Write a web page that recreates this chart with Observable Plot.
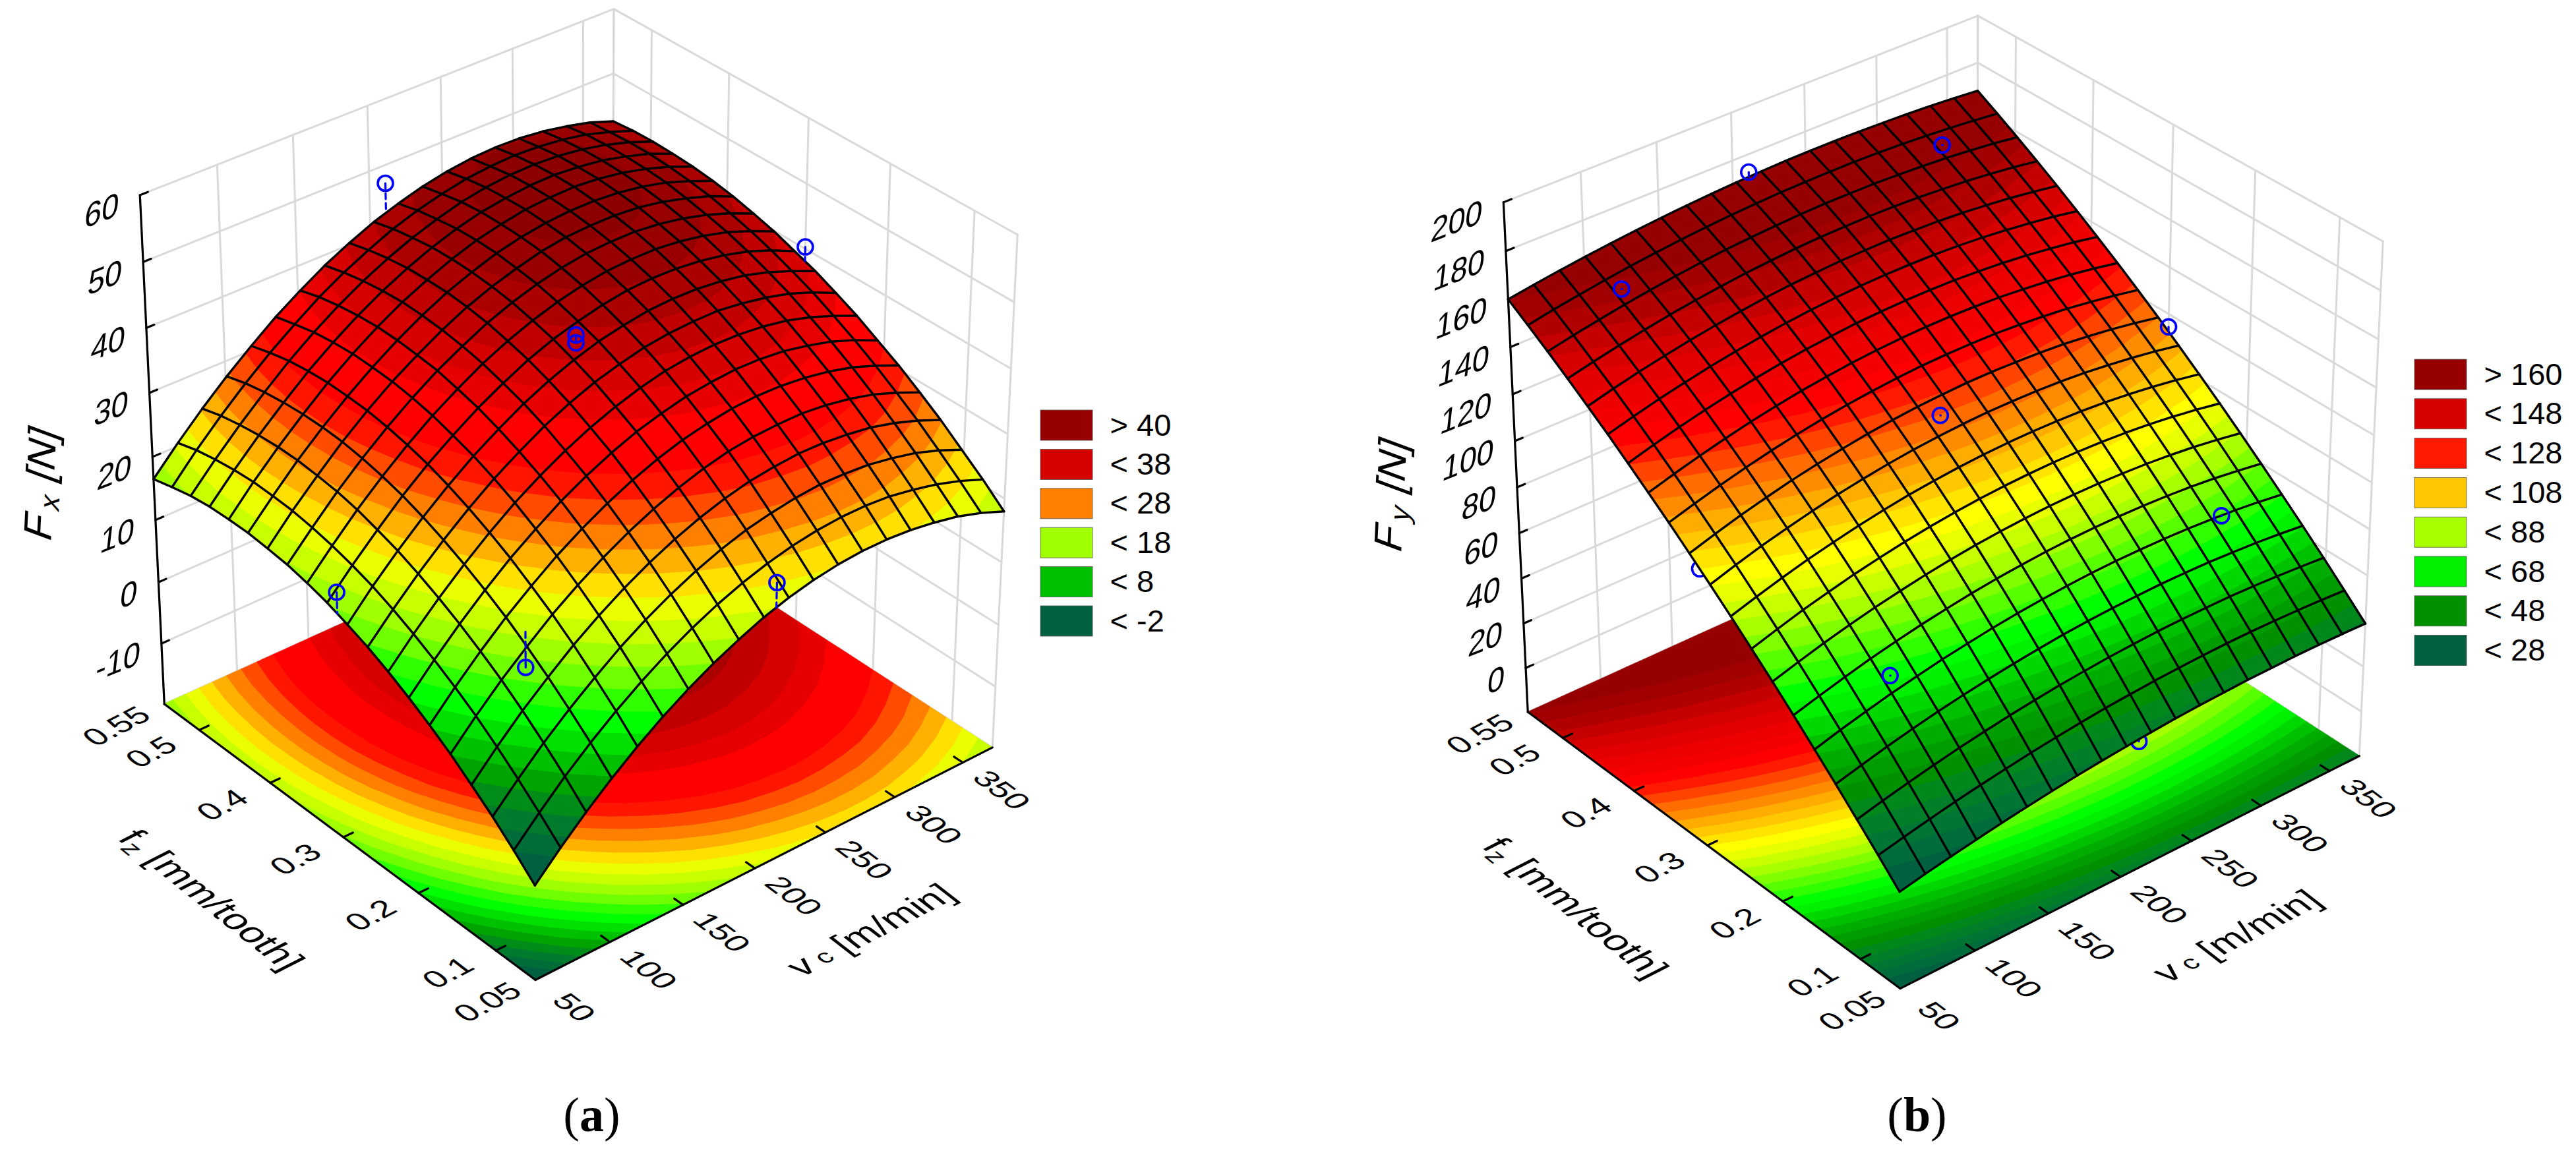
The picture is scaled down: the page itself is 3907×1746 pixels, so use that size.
<!DOCTYPE html>
<html><head><meta charset="utf-8">
<script src="https://cdn.jsdelivr.net/npm/d3@7"></script>
<script src="https://cdn.jsdelivr.net/npm/@observablehq/plot@0.6"></script>
<style>html,body{margin:0;padding:0;background:#fff}svg{display:block}</style>
</head><body><div id="chart"></div>
<script>
const vcLim=[50,372], fzLim=[0.05,0.55];
const vcTicks=[50,100,150,200,250,300,350];
const fzTicks=[0.05,0.1,0.2,0.3,0.4,0.5,0.55];
const zTicksA=[-10,0,10,20,30,40,50,60];
const zTicksB=[0,20,40,60,80,100,120,140,160,180,200];
const levelsA=[-2,0,2,4,6,8,10,12,14,16,18,20,22,24,26,28,30,32,34,36,38,40,42,44,46];
const levelsB=[28,32,36,40,44,48,52,56,60,64,68,72,76,80,84,88,92,96,100,104,108,112,116,120,124,128,132,136,140,144,148,152,156,160];
const bandColorsA=["#006040","#006c38","#007a2c","#008c18","#00a400","#00c000","#00e000","#00ff00","#30ff00","#70ff00","#a0ff00","#c8ff00","#eaff00","#ffe000","#ffb000","#ff8000","#ff4c00","#ff1600","#ff0000","#ff0000","#e60000","#d60000","#c00000","#aa0000","#980000","#8c0000"];
const bandColorsB=["#006040","#006c3c","#007534","#007e28","#00881c","#009000","#009c00","#00ac00","#00c000","#00d800","#00f000","#00ff00","#30ff00","#58ff00","#80ff00","#a8ff00","#c8ff00","#e8ff00","#ffff00","#ffe400","#ffc800","#ffac00","#ff8c00","#ff6c00","#ff4400","#ff1a00","#ff0000","#f40000","#ec0000","#e20000","#d70000","#c40000","#b00000","#a00000","#960000"];
const legendA=[[">","40","#960000"],["<","38","#d60000"],["<","28","#ff8000"],["<","18","#a0ff00"],["<","8","#00c000"],["<","-2","#006040"]];
const legendB=[[">","160","#960000"],["<","148","#d70000"],["<","128","#ff1a00"],["<","108","#ffc800"],["<","88","#a8ff00"],["<","68","#00f000"],["<","48","#009000"],["<","28","#006040"]];
// Fx: rows are fz from 0.05 to 0.55, columns are vc from 50 to 372
const surfaceA=[
[-5.0,-1.1,2.5,5.8,8.8,11.5,13.9,16.0,17.8,19.4,20.6,21.5,22.1,22.4,22.4,22.1,21.5,20.7,19.5,18.0],
[-1.9,2.0,5.7,9.0,12.0,14.7,17.1,19.2,21.0,22.5,23.7,24.6,25.2,25.5,25.5,25.2,24.5,23.6,22.4,20.9],
[1.0,4.9,8.6,11.9,14.9,17.7,20.1,22.2,24.0,25.5,26.7,27.5,28.1,28.4,28.3,28.0,27.3,26.4,25.1,23.5],
[3.6,7.6,11.3,14.6,17.7,20.4,22.8,24.9,26.7,28.2,29.4,30.3,30.8,31.1,31.0,30.6,30.0,29.0,27.7,26.1],
[6.1,10.1,13.8,17.1,20.2,22.9,25.3,27.4,29.2,30.7,31.9,32.8,33.3,33.5,33.5,33.1,32.4,31.4,30.0,28.4],
[8.3,12.3,16.0,19.4,22.4,25.2,27.6,29.7,31.5,33.0,34.2,35.0,35.6,35.8,35.7,35.3,34.6,33.6,32.2,30.6],
[10.3,14.3,18.0,21.4,24.5,27.2,29.7,31.8,33.6,35.1,36.2,37.1,37.6,37.9,37.8,37.4,36.6,35.6,34.2,32.5],
[12.1,16.1,19.8,23.2,26.3,29.1,31.5,33.6,35.4,36.9,38.1,39.0,39.5,39.7,39.6,39.2,38.5,37.4,36.0,34.4],
[13.7,17.7,21.4,24.8,27.9,30.7,33.1,35.3,37.1,38.6,39.7,40.6,41.1,41.3,41.3,40.8,40.1,39.1,37.7,36.0],
[15.0,19.1,22.8,26.2,29.3,32.1,34.5,36.7,38.5,40.0,41.2,42.0,42.6,42.8,42.7,42.3,41.6,40.5,39.1,37.5],
[16.2,20.2,23.9,27.4,30.5,33.2,35.7,37.8,39.7,41.2,42.3,43.2,43.8,44.0,43.9,43.5,42.8,41.8,40.4,38.7],
[17.1,21.1,24.9,28.3,31.4,34.2,36.6,38.8,40.6,42.1,43.3,44.2,44.8,45.0,45.0,44.6,43.9,42.9,41.5,39.9],
[17.8,21.8,25.6,29.0,32.1,34.9,37.4,39.5,41.4,42.9,44.1,45.0,45.6,45.8,45.8,45.4,44.7,43.7,42.4,40.8],
[18.2,22.3,26.0,29.5,32.6,35.4,37.8,40.0,41.9,43.4,44.6,45.6,46.2,46.4,46.4,46.1,45.4,44.4,43.2,41.6],
[18.5,22.5,26.3,29.7,32.8,35.6,38.1,40.3,42.2,43.7,45.0,45.9,46.5,46.8,46.8,46.5,45.9,45.0,43.7,42.2],
[18.5,22.6,26.3,29.7,32.9,35.7,38.2,40.4,42.2,43.8,45.1,46.0,46.7,47.0,47.1,46.8,46.2,45.3,44.1,42.6],
[18.4,22.4,26.1,29.5,32.7,35.5,38.0,40.2,42.1,43.7,45.0,46.0,46.6,47.0,47.1,46.8,46.3,45.4,44.3,42.8],
[18.0,22.0,25.7,29.1,32.3,35.1,37.6,39.8,41.7,43.3,44.6,45.7,46.4,46.8,46.9,46.7,46.2,45.4,44.3,42.9],
[17.3,21.4,25.1,28.5,31.6,34.4,37.0,39.2,41.1,42.8,44.1,45.1,45.9,46.3,46.5,46.3,45.9,45.2,44.1,42.8],
[16.5,20.5,24.2,27.6,30.7,33.6,36.1,38.4,40.3,42.0,43.3,44.4,45.2,45.7,45.9,45.8,45.4,44.7,43.8,42.5]];
// Fy: rows are fz from 0.05 to 0.55, columns are vc from 50 to 372
const surfaceB=[
[22.0,24.2,26.2,28.1,29.9,31.5,33.0,34.3,35.5,36.5,37.4,38.2,38.8,39.2,39.6,39.7,39.8,39.7,39.4,39.0],
[31.1,33.5,35.8,37.9,39.8,41.5,43.1,44.5,45.7,46.8,47.6,48.3,48.8,49.2,49.4,49.4,49.2,48.8,48.3,47.6],
[39.9,42.6,45.0,47.3,49.4,51.2,52.9,54.3,55.6,56.6,57.5,58.1,58.6,58.8,58.8,58.7,58.3,57.7,56.9,56.0],
[48.6,51.4,54.1,56.5,58.7,60.6,62.3,63.8,65.1,66.2,67.0,67.6,67.9,68.1,68.0,67.7,67.1,66.4,65.4,64.2],
[57.0,60.1,62.8,65.4,67.6,69.7,71.4,73.0,74.3,75.3,76.1,76.7,77.0,77.0,76.8,76.4,75.7,74.8,73.6,72.1],
[65.3,68.4,71.3,74.0,76.3,78.4,80.2,81.8,83.1,84.1,84.9,85.4,85.6,85.6,85.3,84.8,84.0,82.9,81.5,79.9],
[73.4,76.6,79.6,82.3,84.7,86.8,88.7,90.3,91.6,92.6,93.3,93.8,94.0,93.9,93.5,92.9,92.0,90.8,89.3,87.5],
[81.2,84.5,87.6,90.3,92.8,94.9,96.8,98.4,99.7,100.7,101.4,101.8,102.0,101.8,101.4,100.7,99.7,98.4,96.8,94.9],
[88.9,92.2,95.3,98.1,100.5,102.7,104.6,106.2,107.4,108.4,109.1,109.5,109.6,109.4,109.0,108.2,107.1,105.7,104.1,102.1],
[96.3,99.7,102.8,105.5,108.0,110.2,112.0,113.6,114.9,115.8,116.5,116.9,116.9,116.7,116.2,115.4,114.2,112.8,111.1,109.1],
[103.6,106.9,110.0,112.7,115.2,117.3,119.1,120.7,121.9,122.9,123.5,123.9,123.9,123.6,123.1,122.3,121.1,119.7,117.9,115.9],
[110.7,113.9,116.9,119.6,122.0,124.1,125.9,127.4,128.6,129.5,130.2,130.5,130.5,130.3,129.7,128.8,127.7,126.2,124.5,122.5],
[117.5,120.7,123.6,126.2,128.6,130.6,132.4,133.8,135.0,135.9,136.5,136.8,136.8,136.5,136.0,135.1,134.0,132.6,130.9,128.9],
[124.2,127.3,130.1,132.6,134.8,136.8,138.5,139.9,141.0,141.9,142.4,142.7,142.7,142.5,141.9,141.1,140.0,138.6,137.0,135.0],
[130.7,133.6,136.3,138.6,140.8,142.6,144.2,145.6,146.7,147.5,148.0,148.3,148.3,148.1,147.6,146.8,145.7,144.4,142.9,141.0],
[136.9,139.7,142.2,144.4,146.4,148.2,149.7,151.0,152.0,152.7,153.3,153.5,153.6,153.3,152.9,152.2,151.2,150.0,148.5,146.8],
[143.0,145.5,147.8,149.9,151.8,153.4,154.8,156.0,156.9,157.7,158.2,158.4,158.5,158.3,157.9,157.2,156.4,155.3,154.0,152.4],
[148.9,151.2,153.2,155.1,156.8,158.3,159.6,160.7,161.5,162.2,162.7,163.0,163.0,162.9,162.5,162.0,161.3,160.3,159.2,157.8],
[154.5,156.6,158.4,160.1,161.6,162.9,164.0,165.0,165.8,166.4,166.9,167.1,167.2,167.2,166.9,166.5,165.9,165.1,164.1,163.0],
[160.0,161.7,163.3,164.7,166.0,167.1,168.1,169.0,169.7,170.3,170.7,171.0,171.1,171.1,170.9,170.6,170.2,169.6,168.9,168.0]];
// Design points: vc, fz, measured force, surface force under it, hidden behind the surface (1) or not (0)
const pointsA=[[211,.55,47.2,42.7,0],[372,.3,40.3,38.1,0],[211,.3,40.8,41.2,0],[211,.3,42,41.2,0],[50,.3,18.9,15.6,0],[211,.05,23.8,20,0],[105,.165,12.6,18.6,0]];
const pointsB=[[211,.55,172.5,170.5,0],[105,.51,158,158,0],[325,.51,163.5,163.5,0],[211,.3,119.7,119.7,0],[372,.3,114.5,112.5,0],[328,.155,75.3,75.3,0],[105,.165,69.4,69.4,0],[50,.3,100,100,1],[211,.05,36,37,1]];
// Frame corners of each 3D box, used to fit the camera of the panel (axis fractions, then page pixels)
const frameA=[[0,0,0,811,1486],[1,0,0,1505,1133],[0,1,0,249,1068],[0,1,1,212,295],[1,0,1,1543,356],[1,1,1,930,13],[1,1,.875,930,111]];
const frameB=[[0,0,0,2881,1499],[1,0,0,3578,1146],[0,1,0,2317,1080],[0,1,1,2280,306],[1,0,1,3614,366],[1,1,1,2999,24],[1,1,.909,2999,94]];

function solveCamera(obs){
  const A=[],b=[];
  for(const [u,v,w,X,Y] of obs){const x=X/1000,y=Y/1000;
    A.push([u,v,w,1,0,0,0,0,-x*u,-x*v,-x*w]);b.push(x);
    A.push([0,0,0,0,u,v,w,1,-y*u,-y*v,-y*w]);b.push(y);}
  const n=11,M=d3.range(n).map(i=>d3.range(n+1).map(j=>j<n?d3.sum(A,r=>r[i]*r[j]):d3.sum(A,(r,k)=>r[i]*b[k])));
  for(let i=0;i<n;i++){let p=i;for(let r=i+1;r<n;r++)if(Math.abs(M[r][i])>Math.abs(M[p][i]))p=r;[M[i],M[p]]=[M[p],M[i]];
    for(let r=0;r<n;r++)if(r!==i){const f=M[r][i]/M[i][i];for(let c=i;c<=n;c++)M[r][c]-=f*M[i][c];}}
  const s=M.map((r,i)=>r[n]/r[i]);
  return (u,v,w)=>{const d=s[8]*u+s[9]*v+s[10]*w+1;return [1000*(s[0]*u+s[1]*v+s[2]*w+s[3])/d,1000*(s[4]*u+s[5]*v+s[6]*w+s[7])/d];};
}
function clip(poly,lo,hi){
  const cut=(pts,inside,lim)=>{const out=[];for(let i=0;i<pts.length;i++){const a=pts[i],b=pts[(i+1)%pts.length],ia=inside(a),ib=inside(b);
    if(ia)out.push(a);
    if(ia!==ib){const t=(lim-a[2])/(b[2]-a[2]);out.push([a[0]+t*(b[0]-a[0]),a[1]+t*(b[1]-a[1]),lim]);}}return out;};
  let p=poly;
  if(lo!=null&&p.length)p=cut(p,q=>q[2]>=lo,lo);
  if(hi!=null&&p.length)p=cut(p,q=>q[2]<=hi,hi);
  return p;
}
function bands(grid,levels,colors){
  const polys=[],n=grid.length-1;
  for(let j=0;j<n;j++)for(let i=0;i<n;i++){
    const P=(a,b)=>[a/n,b/n,grid[b][a]];
    const tris=[[P(i,j),P(i+1,j),P(i+1,j+1)],[P(i,j),P(i+1,j+1),P(i,j+1)]];
    for(const t of tris)for(let k=0;k<=levels.length;k++){
      const lo=k?levels[k-1]:null,hi=k<levels.length?levels[k]:null;
      if(lo!=null&&Math.max(t[0][2],t[1][2],t[2][2])<=lo)continue;
      if(hi!=null&&Math.min(t[0][2],t[1][2],t[2][2])>=hi)continue;
      const c=clip(t,lo,hi);if(c.length>2)polys.push({pts:c,color:colors[k]});
    }
  }
  return polys;
}
function panel(cfg){
  const {frame,zLim,zTicks,grid,levels,colors,points,legend,lx,ly,tag}=cfg;
  const cam=solveCamera(frame);
  const U=vc=>(vc-vcLim[0])/(vcLim[1]-vcLim[0]),V=fz=>(fz-fzLim[0])/(fzLim[1]-fzLim[0]),W=z=>(z-zLim[0])/(zLim[1]-zLim[0]);
  const polys=bands(grid,levels,colors);
  const toRows=(flat)=>{let id=0;const rows=[];for(const p of polys){id++;for(const q of [...p.pts,p.pts[0]]){const [x,y]=cam(q[0],q[1],flat?0:W(q[2]));rows.push({x,y,id,c:p.color});}}return rows;};
  const fillMark=rows=>Plot.line(rows,{x:"x",y:"y",z:"id",fill:"c",stroke:"c",strokeWidth:1.2,curve:"linear"});
  const seg=(lines,opts)=>{const rows=[];lines.forEach((l,id)=>l.forEach(p=>{const [x,y]=cam(...p);rows.push({x,y,id});}));return Plot.line(rows,{x:"x",y:"y",z:"id",...opts});};
  const wallLines=[];
  for(const vc of [...vcTicks,vcLim[1]])wallLines.push([[U(vc),1,0],[U(vc),1,1]]);
  for(const fz of fzTicks)wallLines.push([[1,V(fz),0],[1,V(fz),1]]);
  for(const z of [zLim[0],...zTicks]){wallLines.push([[0,1,W(z)],[1,1,W(z)]]);wallLines.push([[1,1,W(z)],[1,0,W(z)]]);}
  const axisLines=[[[0,1,0],[0,1,1]],[[0,0,0],[1,0,0]],[[0,0,0],[0,1,0]]];
  for(const z of zTicks)axisLines.push([[0,1,W(z)],[.016,1,W(z)]]);
  for(const vc of vcTicks.slice(1))axisLines.push([[U(vc),0,0],[U(vc),.022,0]]);
  for(const fz of fzTicks.slice(1,-1))axisLines.push([[0,V(fz),0],[.02,V(fz),0]]);
  const n=grid.length-1,mesh=[];
  for(let j=0;j<=n;j++){mesh.push(d3.range(n+1).map(i=>[i/n,j/n,W(grid[j][i])]));mesh.push(d3.range(n+1).map(i=>[j/n,i/n,W(grid[i][j])]));}
  const ptMarks=under=>{const pts=points.filter(p=>!!p[4]===under);const stems=pts.map(p=>[[U(p[0]),V(p[1]),W(p[2])],[U(p[0]),V(p[1]),W(p[3])]]);
    return [seg(stems,{stroke:"#0000ff",strokeWidth:3.2,strokeDasharray:"9,6"}),
      Plot.dot(pts.map(p=>{const [x,y]=cam(U(p[0]),V(p[1]),W(p[2]));return {x,y};}),{x:"x",y:"y",r:11.5,stroke:"#0000ff",strokeWidth:3.6,fill:"none"})];};
  const labelAt=(arr,f)=>arr.map(t=>{const [x,y]=f(t);return {x,y,t:String(t)};});
  const font={fontFamily:"'Liberation Sans',Arial,sans-serif",fill:"#000",stroke:"none"};
  const vcL=labelAt(vcTicks,t=>cam(U(t),0,0));
  const fzL=labelAt(fzTicks,t=>cam(0,V(t),0));
  const zL=labelAt(zTicks,t=>cam(0,1,W(t)));
  const [fx,fy]=cam(0,0,0);
  const [lfx,lfy]=cam(0,1,0);
  return [
    seg(wallLines,{stroke:"#d9d9d9",strokeWidth:3}),
    fillMark(toRows(true)),
    seg(axisLines,{stroke:"#000",strokeWidth:3.2}),
    ...ptMarks(true),
    fillMark(toRows(false)),
    seg(mesh,{stroke:"#000",strokeWidth:3.4,strokeLinejoin:"round"}),
    ...ptMarks(false),
    Plot.text(vcL,{x:"x",y:"y",text:"t",dx:58,dy:42,fontSize:cfg.tickSize,ariaDescription:"floorvc",...font}),
    Plot.text(fzL,{x:"x",y:"y",text:"t",dx:-72,dy:34,fontSize:cfg.tickSize,ariaDescription:"floorfz",...font}),
    Plot.text(zL,{x:"x",y:"y",text:"t",dx:-32,dy:14,textAnchor:"end",fontSize:cfg.tickSize,ariaDescription:"wallz",...font}),
    Plot.text([{x:fx+cfg.vcTitle[0],y:fy+cfg.vcTitle[1]}],{x:"x",y:"y",text:()=>"vc [m/min]",fontSize:cfg.titleSize,ariaDescription:"titlevc",...font}),
    Plot.text([{x:fx+cfg.fzTitle[0],y:fy+cfg.fzTitle[1]}],{x:"x",y:"y",text:()=>"fz [mm/tooth]",fontSize:cfg.titleSize,ariaDescription:"titlefz",...font}),
    Plot.text([{x:lfx+cfg.zTitle[0],y:lfy+cfg.zTitle[1]}],{x:"x",y:"y",text:()=>cfg.zName+" [N]",fontSize:62,ariaDescription:"titlez",...font}),
    Plot.rect(legend,{x1:()=>lx,x2:()=>lx+79,y1:(d,i)=>ly+i*cfg.lstep,y2:(d,i)=>ly+i*cfg.lstep+46,fill:d=>d[2],stroke:"#555",strokeWidth:.8}),
    Plot.text(legend,{x:()=>lx+105,y:(d,i)=>ly+i*cfg.lstep+23,text:d=>d[0]+" "+d[1],textAnchor:"start",fontSize:47,...font}),
    Plot.text([tag],{x:()=>cfg.tagX,y:()=>1692,text:d=>"("+d+")",fontSize:74,fontFamily:"'Liberation Serif',serif",fill:"#000",ariaDescription:"tag"}),
  ];
}
const marks=[
 ...panel({frame:frameA,zLim:[-20,60],zTicks:zTicksA,grid:surfaceA,levels:levelsA,colors:bandColorsA,points:pointsA,legend:legendA,lx:1578,ly:622,lstep:59.4,tag:"a",tagX:897,tickSize:50,titleSize:58,vcTitle:[509,-75],fzTitle:[-492,-121],zTitle:[-187,-335],zName:"Fx"}),
 ...panel({frame:frameB,zLim:[-20,200],zTicks:zTicksB,grid:surfaceB,levels:levelsB,colors:bandColorsB,points:pointsB,legend:legendB,lx:3662,ly:545,lstep:59.8,tag:"b",tagX:2907,tickSize:50,titleSize:58,vcTitle:[511,-79],fzTitle:[-493,-122],zTitle:[-207,-330],zName:"Fy"})
];
const chart=Plot.plot({width:3907,height:1746,margin:0,x:{type:"identity",axis:null},y:{type:"identity",axis:null},color:{type:"identity"},style:{background:"#fff"},marks});
const sel=l=>chart.querySelectorAll(`g[aria-description="${l}"] text`);
const xf=(label,m)=>sel(label).forEach(el=>el.setAttribute("transform",el.getAttribute("transform")+` matrix(${m.join(" ")} 0 0)`));
xf("floorvc",[.80,.60,-.80,.42]);xf("titlefz",[.78,.62,-.86,.44]);
xf("floorfz",[.89,-.46,.72,.56]);xf("titlevc",[.89,-.46,.72,.56]);
xf("wallz",[.93,-.37,-.12,1.05]);xf("titlez",[.05,-1,.95,.35]);
function rich(el,parts){el.textContent="";for(const [t,o] of parts){const s=document.createElementNS("http://www.w3.org/2000/svg","tspan");s.textContent=t;for(const k in (o||{}))s.setAttribute(k,o[k]);el.appendChild(s);}}
sel("titlevc").forEach(el=>rich(el,[["v"],[" c",{"font-size":"40",dy:"-2"}],[" [m/min]",{dy:"2"}]]));
sel("titlefz").forEach(el=>rich(el,[["f"],["z",{"font-size":"40",dy:"10"}],[" [mm/tooth]",{dy:"-10"}]]));
sel("titlez").forEach(el=>{const n=el.textContent[1];rich(el,[["F"],[" "+n,{"font-size":"44",dy:"10"}],[" [N]",{dy:"-10"}]]);});
sel("tag").forEach(el=>{const a=el.textContent[1];rich(el,[["("],[a,{"font-weight":"bold"}],[")"]]);});
document.getElementById("chart").appendChild(chart);
</script></body></html>
